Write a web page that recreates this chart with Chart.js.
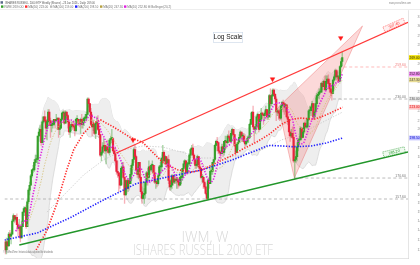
<!DOCTYPE html>
<html>
<head>
<meta charset="utf-8">
<script src="https://cdn.jsdelivr.net/npm/chart.js@4.4.1/dist/chart.umd.min.js"></script>
<style>
html,body{margin:0;padding:0;background:#fff;overflow:hidden}
canvas{display:block}
</style>
</head>
<body>
<canvas id="chart" width="420" height="265"></canvas>
<script>
// weeks are counted from 1 Jul 2020; first candle = week of 22 Jun 2020
const FIRST_WEEK = -1.29;
const FIRST_OPEN = 134;

// weekly IWM, dividend adjusted
const closes = [
  130,134,132,138,137,138,145,148,146,147,143,141,142,136,142,150,152,152,142,156,163,166,172,176,176,181,183,183,
  200,203,205,195,211,215,212,206,211,219,212,208,209,209,213,212,212,214,205,206,213,218,218,210,219,216,
  211,203,207,209,208,207,204,213,213,210,209,213,209,211,214,214,217,230,226,219,209,207,209,202,210,210,
  205,201,186,188,192,193,189,192,190,188,197,198,198,189,187,182,175,174,172,166,177,178,171,160,169,164,
  169,167,173,179,183,190,185,176,173,181,171,162,158,160,161,168,174,171,178,176,179,179,174,168,168,167,
  172,178,178,184,188,182,185,180,183,169,165,166,172,168,170,169,170,168,166,171,171,177,180,182,174,180,
  180,186,190,191,186,183,179,179,185,178,177,171,171,168,165,161,158,169,167,175,175,181,183,193,196,195,
  189,188,187,192,188,196,196,195,200,199,196,202,205,201,193,188,194,195,199,203,200,200,196,194,196,198,
  199,209,213,219,207,205,207,215,217,205,213,218,217,216,218,221,215,215,233,226,233,238,234,230,219,220,218,
  214,224,227,226,223,225,215,213,203,200,202,199,182,183,185,192,197,197,206,199,203,210,207,207,213,220,
  220,223,226,215,219,226,233,234,236,236,244,241,246,238,246,248,244,239,236,235,247,250,256,250,250,246,
  260,265,269
];
const highs = [
  135,136,135,139,140,139,146,149,148,148,149,144,146,143,145,150,153,153,154,157,164,168,173,176,179,183,186,186,
  200,206,208,209,212,215,220,215,213,221,221,214,211,212,213,213,217,214,213,209,214,219,220,220,220,219,
  217,213,208,211,211,212,209,214,216,213,213,214,217,214,215,217,219,231,231,226,222,217,212,210,210,215,
  216,208,201,189,195,198,196,193,197,194,198,200,205,199,191,192,184,182,174,174,178,181,181,169,169,170,
  170,170,177,180,183,191,193,186,178,181,181,172,165,168,164,168,175,177,182,179,180,182,178,179,170,170,
  173,179,181,184,193,189,186,184,184,186,172,170,173,172,173,172,171,171,170,174,172,177,182,183,181,181,
  183,187,191,193,194,187,182,182,186,184,181,178,173,172,171,167,163,170,171,178,176,181,183,194,197,199,
  195,192,188,194,194,196,200,196,201,204,201,204,206,205,201,194,195,197,201,204,203,202,202,201,197,200,
  200,210,218,219,224,206,209,216,218,216,214,222,219,217,220,224,221,220,234,239,234,239,239,235,232,222,221,
  221,225,228,229,227,226,225,218,213,204,205,207,207,193,189,195,198,200,207,206,206,210,212,210,214,221,
  224,224,228,226,220,231,235,236,239,239,245,246,247,251,251,251,252,248,244,241,248,252,257,257,255,251,
  261,268,275
];
const lows = [
  128,128,130,132,135,133,138,145,144,145,140,137,140,134,137,143,148,148,141,142,155,160,167,171,174,175,179,181,
  180,196,200,193,197,210,211,198,197,208,209,199,203,206,208,206,211,205,199,201,207,212,215,209,210,213,
  206,201,199,204,205,206,200,203,211,208,207,202,206,206,208,212,212,217,223,218,208,200,204,201,198,209,
  204,199,185,182,187,191,187,180,188,187,186,194,195,188,186,181,173,171,162,164,166,174,170,155,160,161,
  162,163,167,169,176,181,184,175,171,170,169,161,155,159,155,158,166,166,169,173,175,174,172,167,164,165,
  166,172,174,175,181,180,180,178,178,167,163,163,164,166,167,167,164,164,165,166,167,169,176,178,173,174,
  178,179,184,187,184,180,177,177,178,177,176,170,168,164,164,160,157,157,164,167,173,173,179,182,189,193,
  187,186,183,188,185,186,190,191,194,198,195,196,200,198,192,186,189,190,195,198,196,196,195,192,193,195,
  195,198,210,210,205,195,202,205,212,203,206,213,214,209,212,217,213,213,215,224,224,232,232,228,212,216,213,
  212,213,221,219,217,219,214,209,200,196,199,198,181,170,181,182,189,194,199,198,199,202,206,206,206,212,
  218,216,223,213,214,219,223,231,230,235,236,238,241,238,238,244,243,236,233,229,236,246,248,247,248,245,
  248,259,261
];

// long moving averages: [week, price]
const redMA = [[25.3,130],[34.7,140],[43.3,155],[51.8,176],[57.8,190],[66.3,202],[74.9,210],[80.9,212.5],[92,207],
  [106.5,199],[117.6,195],[126.1,188],[134.7,181],[147.5,176],[160.3,174.5],[168.8,176],[181.7,181],[192.8,185],
  [203,190],[215.8,195.5],[226.1,201],[237.2,209],[245.7,213],[254.3,214],[265.4,213],[275.6,216.5],[290.1,223]];
const blueMA = [[-2,135],[26.2,138.6],[55.2,147],[83.4,157],[111.6,167],[134.7,170.6],[168.8,176],[194.5,182.6],
  [226.1,193],[237.2,192.6],[248.3,192],[262.8,192.6],[275.6,194.7],[290.1,198.5]];
const grayMA = [[34.7,150],[49.3,160],[66.3,172.6],[83.4,182.6],[100.5,189.7],[117.6,192.6],[134.7,191.8],[151.8,188],
  [168.8,184],[185.9,184],[203,186],[220.1,189.7],[237.2,197],[254.3,202],[271.3,210],[290.1,219]];

// drawings
const redTrend = [[94.5,187.5],[346.5,307.4]];
const greenTrend = [[10.8,132.4],[346.5,188.2]];
const wedge = [[248.3,170.6],[234.6,223.2],[307.2,303.1],[248.3,170.6]];
const levelPrices = [157.6, 170.6, 230.0, 259.6];
const levelFrom = [-2, 248.3, 281.6, 291.0];
const levelColors = ['#a9a9a9','#a9a9a9','#a9a9a9','#ffaaaa'];
const arrowWeeks = [109.0, 229.5, 288.4];
const arrowPrices = [197, 248, 289.7];

// axes
const yTicks = [130,135,140,145,150,155,160,166,172,178,185,191,198,205,212,220,228,236,245,254,263,272,282,292,303,314];
const monthNames = {2:'Mar',4:'May',6:'Jul',8:'Sept',10:'Nov'};

const tickWeeks = [], tickLabels = [];
for (let y = 2020; y <= 2027; y++) {
  for (let m = 0; m < 12; m += 2) {
    const w = (Date.UTC(y, m, 1) - Date.UTC(2020, 6, 1)) / 6048e5;
    if (w < -0.5 || w > 349) continue;
    tickWeeks.push(w);
    tickLabels.push(m === 0 ? String(y) : monthNames[m]);
  }
}

const weeks = closes.map((_, i) => FIRST_WEEK + i);
const opens = closes.map((c, i) => i === 0 ? FIRST_OPEN : closes[i - 1]);
const isUp = closes.map((c, i) => c >= opens[i]);

function sma(arr, n){
  return arr.map((_, i) => {
    if (i < n - 1) return null;
    let s = 0; for (let k = i - n + 1; k <= i; k++) s += arr[k];
    return s / n;
  });
}
function band(arr, n, k){
  const mid = sma(arr, n);
  return mid.map((m, i) => {
    if (m === null) return [null, null];
    let v = 0; for (let j = i - n + 1; j <= i; j++) v += (arr[j] - m) ** 2;
    const sd = Math.sqrt(v / n);
    return [m + k * sd, m - k * sd];
  });
}
const ma10 = sma(closes, 10);
const ma20 = sma(closes, 20);
const bb = band(closes, 20, 2);
const pts = vals => weeks.map((w, i) => ({x: w, y: vals[i]}));
const last = a => a[a.length - 1];

const dotted = (data, color, width, order) => ({
  type:'line', data, borderColor: color, borderWidth: width, borderDash:[1.3,1.5],
  pointRadius:0, fill:false, order, tension:0
});

const datasets = [
  {type:'line', data: pts(bb.map(b => b[0])), borderColor:'#d2d2d2', borderWidth:0.7, pointRadius:0, fill:false, order:20},
  {type:'line', data: pts(bb.map(b => b[1])), borderColor:'#d2d2d2', borderWidth:0.7, pointRadius:0, fill:'-1', backgroundColor:'#eeeeee', order:19},
  dotted(grayMA, '#c4c4c4', 0.8, 18),
  {type:'line', data: wedge, borderColor:'rgba(235,90,90,0.55)', borderWidth:0.7, backgroundColor:'rgba(245,120,120,0.28)', fill:'shape', pointRadius:0, order:17},
  ...levelPrices.map((p, i) => ({type:'line', data:[[levelFrom[i], p],[346.5, p]], borderColor: levelColors[i], borderWidth:0.8, borderDash:[3,2.5], pointRadius:0, fill:false, order:16})),
  {type:'bar', data: weeks.map((w, i) => ({x:w, y:[Math.min(lows[i], opens[i], closes[i]), Math.max(highs[i], opens[i], closes[i])]})),
    backgroundColor: ctx => isUp[ctx.dataIndex] ? 'rgba(60,160,50,0.45)' : 'rgba(235,60,80,0.4)', barThickness:0.7, grouped:false, order:15},
  {type:'bar', data: weeks.map((w, i) => ({x:w, y:[opens[i], closes[i]]})),
    backgroundColor: ctx => isUp[ctx.dataIndex] ? '#35a02b' : '#e8243c', barThickness:1.5, minBarLength:1, grouped:false, order:14},
  dotted(pts(ma20), '#d6c27c', 0.9, 13),
  dotted(blueMA, '#1f1fff', 1.6, 12),
  dotted(redMA, '#ff2a2a', 1.6, 11),
  dotted(pts(ma10), '#e01ee0', 1.6, 10),
  {type:'line', data: redTrend, borderColor:'#ff3a3a', borderWidth:1.2, pointRadius:0, fill:false, order:5},
  {type:'line', data: greenTrend, borderColor:'#22962a', borderWidth:1.5, pointRadius:0, fill:false, order:5},
  {type:'scatter', data: arrowWeeks.map((w, i) => ({x:w, y:arrowPrices[i]})), pointStyle:'triangle', rotation:180,
    pointRadius:2.6, backgroundColor:'#ff1a1a', borderColor:'#ff1a1a', borderWidth:0.5, order:1}
];

const legendItems = [
  ['IWM ' + last(closes).toFixed(2), '#35a02b'],
  ['MA(50) ' + last(redMA)[1].toFixed(2), '#ff2a2a'],
  ['MA(100) ' + last(grayMA)[1].toFixed(2), '#bbbbbb'],
  ['MA(200) ' + last(blueMA)[1].toFixed(2), '#1f1fff'],
  ['MA(20) ' + last(ma20).toFixed(2), '#b5a040'],
  ['MA(10) ' + last(ma10).toFixed(2), '#e01ee0'],
  ['Bollinger(20,2)', '#bbbbbb']
];
const legendX = [3, 27, 52, 77, 102, 126, 150];

function box(ctx, x, y, w, h, fill, stroke){
  ctx.fillStyle = fill; ctx.fillRect(x, y, w, h);
  if (stroke){ ctx.strokeStyle = stroke; ctx.lineWidth = 0.6; ctx.strokeRect(x + 0.3, y + 0.3, w - 0.6, h - 0.6); }
}

const overlay = {
  id:'overlay',
  beforeDatasetsDraw(chart){
    const ctx = chart.ctx;
    ctx.save();
    ctx.fillStyle = '#d8d8d8';
    ctx.textAlign = 'center'; ctx.textBaseline = 'middle';
    ctx.font = '300 14px "Open Sans"';
    ctx.fillText('IWM, W', 205, 238, 47);
    ctx.font = '300 14px "Open Sans"';
    ctx.fillText('ISHARES RUSSELL 2000 ETF', 203, 251.5, 140);
    ctx.restore();
  },
  afterDraw(chart){
    const {ctx, chartArea:a, scales:{x, y}} = chart;
    ctx.save();
    ctx.textBaseline = 'middle';

    // header
    ctx.font = '3.6px "Liberation Sans"';
    ctx.fillStyle = '#5a6a8a';
    ctx.fillRect(0.5, 1.2, 2.5, 2.5);
    ctx.fillStyle = '#555';
    ctx.textAlign = 'left';
    ctx.fillText('ISHARES RUSSELL 2000 ETF Weekly (Shares) - 23 Jan 2026 - Daily: ' + last(closes).toFixed(2), 5, 2.6, 90);
    legendItems.forEach(([t, c], i) => {
      const lx = legendX[i];
      ctx.fillStyle = c; ctx.fillRect(lx - 2, 5.4, 2.4, 2.4);
      ctx.fillStyle = '#777'; ctx.fillText(t, lx + 1.2, 6.7, 20);
    });
    ctx.fillStyle = '#888'; ctx.textAlign = 'right';
    ctx.fillText('www.prorealtime.com', 411, 2.6, 22);
    ctx.strokeStyle = '#e2e2e2'; ctx.lineWidth = 0.6;
    ctx.beginPath(); ctx.moveTo(0, 9.5); ctx.lineTo(420, 9.5); ctx.stroke();

    // footer note
    ctx.textAlign = 'left'; ctx.fillStyle = '#777'; ctx.font = '3px "Liberation Sans"';
    ctx.fillText('\u00A9 ProRealTime: historical data adjusted for dividends', 3, 252.5, 50);

    // Log Scale label
    box(ctx, 213, 32, 30, 11, '#ffffff', '#c9d6e6');
    ctx.fillStyle = '#222'; ctx.textAlign = 'center'; ctx.font = '6.5px "Liberation Sans"';
    ctx.fillText('Log Scale', 228, 37.7);

    // level labels above the dashed lines
    ctx.font = '3.5px "Liberation Sans"'; ctx.textAlign = 'right';
    levelPrices.forEach((p, i) => {
      const py = y.getPixelForValue(p);
      ctx.fillStyle = i === 3 ? '#f08080' : '#777';
      ctx.fillText(p.toFixed(2), a.right - 2, py - 2);
    });

    // trend line labels (tilted along the line)
    [[redTrend, '#ff3a3a', '#fff0f0'], [greenTrend, '#22962a', '#effaef']].forEach(([ln, c, bg]) => {
      const x0 = x.getPixelForValue(ln[0][0]), y0 = y.getPixelForValue(ln[0][1]);
      const x1 = x.getPixelForValue(ln[1][0]), y1 = y.getPixelForValue(ln[1][1]);
      const t = (a.right - 14 - x0) / (x1 - x0);
      const cx = x0 + (x1 - x0) * t, cy = y0 + (y1 - y0) * t;
      ctx.save();
      ctx.translate(cx, cy - 3.5);
      ctx.rotate(Math.atan2(y1 - y0, x1 - x0));
      ctx.fillStyle = bg; ctx.fillRect(-11, -2.6, 22, 5.2);
      ctx.strokeStyle = c; ctx.lineWidth = 0.5; ctx.setLineDash([1.2, 0.8]);
      ctx.strokeRect(-11, -2.6, 22, 5.2);
      ctx.fillStyle = c; ctx.textAlign = 'center'; ctx.font = '3.8px "Liberation Sans"';
      ctx.fillText(ln[1][1].toFixed(2), 0, 0.2);
      ctx.restore();
    });

    // current values on the price scale
    const marks = [
      [last(closes), '#f2e100', '#222'],
      [last(ma10), '#f08cf0', '#222'],
      [last(ma20), '#e8dc94', '#444'],
      [levelPrices[2], '#e6e6e6', '#555'],
      [last(redMA)[1], '#ffc4c4', '#d00'],
      [last(blueMA)[1], '#c4c4ff', '#00c']
    ];
    ctx.textAlign = 'left'; ctx.font = '3.4px "Liberation Sans"';
    marks.forEach(([v, bg, fg]) => {
      const py = y.getPixelForValue(v);
      ctx.fillStyle = bg; ctx.fillRect(a.right + 1, py - 2.4, 11, 4.8);
      ctx.fillStyle = fg; ctx.fillText(v.toFixed(2), a.right + 1.6, py + 0.2, 10);
    });
    ctx.restore();
  }
};

new Chart(document.getElementById('chart'), {
  type:'bar',
  data:{ datasets },
  options:{
    responsive:false,
    animation:false,
    devicePixelRatio:1,
    layout:{ padding:{ top:10, left:0, right:0, bottom:0 } },
    plugins:{ legend:{display:false}, tooltip:{enabled:false} },
    scales:{
      x:{
        type:'linear', min:-2, max:346.5, offset:false,
        grid:{display:false}, border:{color:'#d4d4d4', width:0.6},
        afterBuildTicks: s => { s.ticks = tickWeeks.map(v => ({value:v})); },
        afterFit: s => { s.height = 7; },
        ticks:{ autoSkip:false, maxRotation:0, padding:1, color:'#8a8a8a', font:{size:3.6},
          callback:(v, i) => tickLabels[i] }
      },
      y:{
        type:'logarithmic', position:'right', min:126.1, max:322,
        grid:{display:false}, border:{color:'#d4d4d4', width:0.6},
        afterBuildTicks: s => { s.ticks = yTicks.map(v => ({value:v})); },
        afterFit: s => { s.width = 12; },
        ticks:{ padding:1.5, color:'#8a8a8a', font:{size:3.6}, callback: v => String(Math.round(v)) }
      }
    }
  },
  plugins:[overlay]
});
</script>
</body>
</html>
